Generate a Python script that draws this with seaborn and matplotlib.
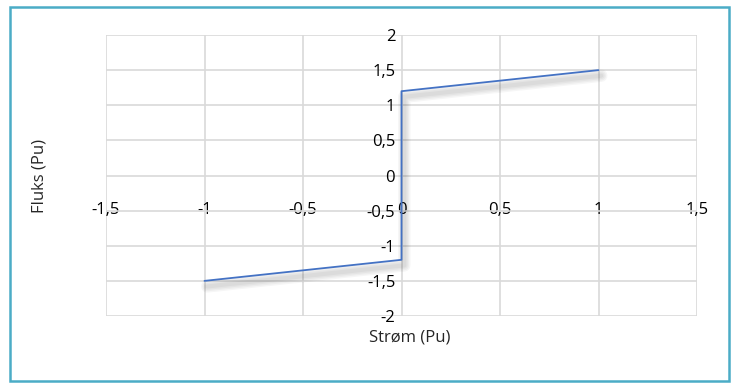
import matplotlib
matplotlib.use("Agg")
import matplotlib.pyplot as plt
import matplotlib.patheffects as pe
from matplotlib.patches import Rectangle
import seaborn as sns
import pandas as pd

# Data
strom = [-1.0, 0.0, 0.0, 1.0]
fluks = [-1.5, -1.2, 1.2, 1.5]
x_ticks = [-1.5, -1.0, -0.5, 0.0, 0.5, 1.0, 1.5]
x_tick_labels = ["-1,5", "-1", "-0,5", "0", "0,5", "1", "1,5"]
y_ticks = [-2.0, -1.5, -1.0, -0.5, 0.0, 0.5, 1.0, 1.5, 2.0]
y_tick_labels = ["-2", "-1,5", "-1", "-0,5", "0", "0,5", "1", "1,5", "2"]
x_title = "Strøm (Pu)"
y_title = "Fluks (Pu)"

sns.set_theme(style="white")
plt.rcParams["font.family"] = ["Open Sans", "DejaVu Sans"]

W, H = 732, 383
fig = plt.figure(figsize=(W / 100, H / 100), dpi=100)
ax = fig.add_axes([106 / W, 1 - 316 / H, (697 - 106) / W, (316 - 35) / H])

shadow = [pe.SimpleLineShadow(offset=(2, -4), shadow_color="black", alpha=0.035, linewidth=w)
          for w in (9, 7, 5, 3)]
df = pd.DataFrame({"x": strom, "y": fluks})
sns.lineplot(data=df, x="x", y="y", sort=False, estimator=None, ax=ax,
             color="#4472C4", linewidth=1.3, zorder=5,
             path_effects=shadow + [pe.Normal()])

ax.set_xlim(-1.5, 1.5)
ax.set_ylim(-2, 2)
ax.set_xticks(x_ticks)
ax.set_xticklabels(x_tick_labels)
ax.set_yticks(y_ticks)
ax.set_yticklabels(y_tick_labels)
ax.grid(True, color="#d9d9d9", linewidth=1.2)
ax.set_axisbelow(True)
for s in ax.spines.values():
    s.set_visible(False)
ax.spines["left"].set_position(("data", 0))
ax.spines["bottom"].set_position(("data", 0))
ax.tick_params(axis="both", length=0, labelsize=12, colors="black")
ax.tick_params(axis="x", pad=19)
ax.tick_params(axis="y", pad=4.5)
ax.set_xlabel("")
ax.set_ylabel("")

fig.text(410 / W, 1 - 337 / H, x_title, ha="center", va="center", fontsize=12)
fig.text(40 / W, 1 - 176 / H, y_title, ha="center", va="center", rotation=90, fontsize=12)

fig.patches.append(Rectangle((9.5 / W, 1 - 381 / H), (729 - 9.5) / W, (381 - 6.5) / H,
                             transform=fig.transFigure, fill=False,
                             edgecolor="#4BACC6", linewidth=1.8))

fig.savefig("out.png", dpi=100)
